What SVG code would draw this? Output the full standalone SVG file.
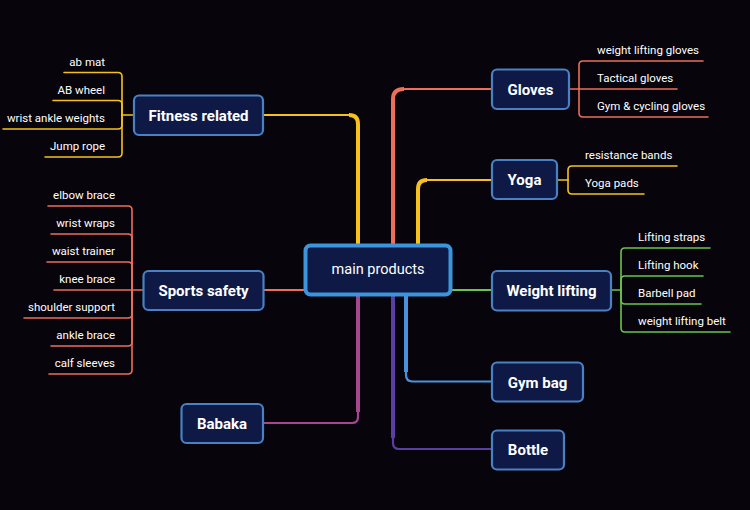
<svg xmlns="http://www.w3.org/2000/svg" width="750" height="510" viewBox="0 0 750 510">
<style>
.node rect{fill:#0e1a45;stroke:#4a80c4;stroke-width:2.2}
.node text{font-family:Roboto,"Liberation Sans",sans-serif;font-weight:bold;font-size:15px;fill:#ffffff;text-anchor:middle}
.leaf{font-family:Roboto,"Liberation Sans",sans-serif;font-size:11.5px;fill:#ffffff}
.l{text-anchor:end}
.c path{fill:none;stroke-linecap:round;stroke-linejoin:round}
.c path.t{stroke-linecap:butt}
.y{stroke:#f5c11c}.o{stroke:#ec6e5b}.g{stroke:#6cc34b}.b{stroke:#4b92dc}.p{stroke:#5a3ea6}.m{stroke:#a4478e}
.t{stroke-width:4}.n{stroke-width:2.2}.f{stroke-width:1.6}
</style>
<rect width="750" height="510" fill="#07040c"/>
<g id="connectors" class="c">
<path class="y n" d="M263,115 H350"/>
<path class="y t" d="M349,115 Q358,115 358,124 V247"/>
<path class="o n" d="M492,89 H403"/>
<path class="o t" d="M404,89 Q393,89 393,99 V247"/>
<path class="y n" d="M492,180 H426"/>
<path class="y t" d="M427,180 Q418,180 418,189 V247"/>
<path class="o n" d="M263,290 H306"/>
<path class="g n" d="M450,290 H492"/>
<path class="b t" d="M406,293 V372"/>
<path class="b n" d="M406,370 V375 Q406,381.5 412.5,381.5 H492"/>
<path class="p t" d="M393,293 V438"/>
<path class="p n" d="M393,436 V443 Q393,449 399,449 H492"/>
<path class="m t" d="M358,293 V412"/>
<path class="m n" d="M358,410 V417 Q358,423 352,423 H263"/>
<path class="y f" d="M134,115 H122"/>
<path class="y f" d="M122,115 V76.5 Q122,72.5 118,72.5 H64"/>
<path class="y f" d="M122,115 V104.5 Q122,100.5 118,100.5 H53"/>
<path class="y f" d="M122,115 V125 Q122,129 118,129 H3"/>
<path class="y f" d="M122,115 V153 Q122,157 118,157 H45"/>
<path class="o f" d="M143,290 H132"/>
<path class="o f" d="M132,290 V210 Q132,206 128,206 H48"/>
<path class="o f" d="M132,290 V238 Q132,234 128,234 H51"/>
<path class="o f" d="M132,290 V266 Q132,262 128,262 H47"/>
<path class="o f" d="M132,290 H54"/>
<path class="o f" d="M132,290 V314 Q132,318 128,318 H24"/>
<path class="o f" d="M132,290 V342 Q132,346 128,346 H51"/>
<path class="o f" d="M132,290 V370 Q132,374 128,374 H49"/>
<path class="o f" d="M569,89 H579"/>
<path class="o f" d="M579,89 V65 Q579,61 583,61 H703"/>
<path class="o f" d="M579,89 H677"/>
<path class="o f" d="M579,89 V113 Q579,117 583,117 H708"/>
<path class="y f" d="M557,180 H568"/>
<path class="y f" d="M568,180 V170 Q568,166 572,166 H677"/>
<path class="y f" d="M568,180 V190 Q568,194 572,194 H644"/>
<path class="g f" d="M611,290 H621"/>
<path class="g f" d="M621,290 V252 Q621,248 625,248 H710"/>
<path class="g f" d="M621,290 V280 Q621,276 625,276 H703"/>
<path class="g f" d="M621,290 V300 Q621,304 625,304 H701"/>
<path class="g f" d="M621,290 V328 Q621,332 625,332 H730"/>
</g>
<g id="main" class="node">
<rect x="305.5" y="245.5" width="145" height="49" rx="5" style="stroke:#3b94dc;stroke-width:4"/>
<text x="378" y="274" style="font-weight:normal;font-size:14.5px">main products</text>
</g>
<g id="fitness" class="node"><rect x="134" y="95.5" width="129" height="39.5" rx="5"/><text x="198.5" y="120.5">Fitness related</text></g>
<g id="sports" class="node"><rect x="143.5" y="271" width="120" height="39" rx="5"/><text x="203.5" y="296">Sports safety</text></g>
<g id="babaka" class="node"><rect x="181.5" y="404" width="81.5" height="39" rx="5"/><text x="222" y="429">Babaka</text></g>
<g id="gloves" class="node"><rect x="492" y="69.5" width="77" height="39.5" rx="5"/><text x="530.5" y="94.5">Gloves</text></g>
<g id="yoga" class="node"><rect x="492" y="160" width="65" height="39" rx="5"/><text x="524.5" y="185">Yoga</text></g>
<g id="weight" class="node"><rect x="492" y="271" width="119" height="39.5" rx="5"/><text x="551.5" y="296">Weight lifting</text></g>
<g id="gymbag" class="node"><rect x="492" y="362.5" width="91" height="39" rx="5"/><text x="537.5" y="387.5">Gym bag</text></g>
<g id="bottle" class="node"><rect x="492" y="430.5" width="72" height="39" rx="5"/><text x="528" y="455">Bottle</text></g>
<g id="leaves">
<text class="leaf l" x="105" y="65.5">ab mat</text>
<text class="leaf l" x="105" y="93.5">AB wheel</text>
<text class="leaf l" x="105" y="122">wrist ankle weights</text>
<text class="leaf l" x="105" y="150">Jump rope</text>
<text class="leaf l" x="115" y="199">elbow brace</text>
<text class="leaf l" x="115" y="227">wrist wraps</text>
<text class="leaf l" x="115" y="255">waist trainer</text>
<text class="leaf l" x="115" y="283">knee brace</text>
<text class="leaf l" x="115" y="311">shoulder support</text>
<text class="leaf l" x="115" y="339">ankle brace</text>
<text class="leaf l" x="115" y="367">calf sleeves</text>
<text class="leaf" x="597" y="53.5">weight lifting gloves</text>
<text class="leaf" x="597" y="81.5">Tactical gloves</text>
<text class="leaf" x="597" y="109.5">Gym &amp; cycling gloves</text>
<text class="leaf" x="585" y="159">resistance bands</text>
<text class="leaf" x="585" y="187">Yoga pads</text>
<text class="leaf" x="638" y="241">Lifting straps</text>
<text class="leaf" x="638" y="269">Lifting hook</text>
<text class="leaf" x="638" y="297">Barbell pad</text>
<text class="leaf" x="638" y="325">weight lifting belt</text>
</g>
</svg>
